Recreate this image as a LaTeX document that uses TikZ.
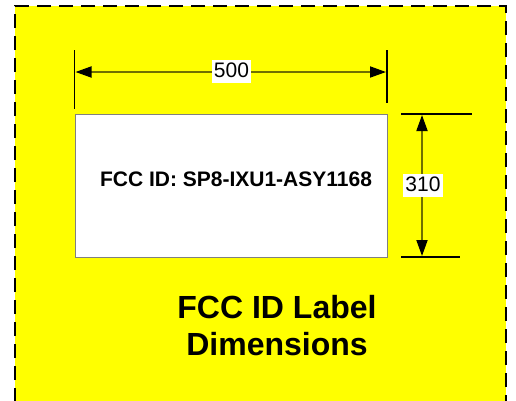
\documentclass[tikz,border=0pt]{standalone}
\usepackage{fontspec}
\setmainfont{Liberation Sans}
\usetikzlibrary{arrows.meta}
\definecolor{bgyellow}{RGB}{255,255,0}
\definecolor{dimline}{RGB}{112,112,0}
\tikzset{
  extline/.style={draw=black, line width=1.6pt},
  dimarrow/.style={draw=dimline, line width=1.8pt, {Triangle[length=16pt,width=11pt,black]}-{Triangle[length=16pt,width=11pt,black]}},
  dimlabel/.style={fill=white, inner sep=2pt, font=\fontsize{21}{24}\selectfont, text height=15pt, text depth=4pt},
  labelbox/.style={draw=gray, fill=white, line width=1pt, minimum width=312pt, minimum height=143pt, inner sep=0pt},
  titletext/.style={font=\fontsize{32}{36}\selectfont\bfseries},
}
\begin{document}
\begin{tikzpicture}[x=1pt,y=-1pt]
\useasboundingbox (0,0) rectangle (516,400);
\fill[bgyellow] (15,6) rectangle (506,402);
\draw[line width=2.4pt, dash pattern=on 14pt off 8pt] (15,402) -- (15,6) -- (506,6) -- (506,402);
% label box
\node[labelbox] (box) at (231,185.5) {};
\node[font=\fontsize{21}{24}\selectfont\bfseries, anchor=center] (fccid) at (236,179) {FCC ID: SP8-IXU1-ASY1168};
% horizontal dimension
\coordinate (hl1) at (74.5,50);
\coordinate (hl2) at (74.5,109);
\coordinate (hr1) at (387,50);
\coordinate (hr2) at (387,103);
\draw[extline] (hl1) -- (hl2);
\draw[extline] (hr1) -- (hr2);
\coordinate (ha) at (75.5,72);
\coordinate (hb) at (386,72);
\draw[dimarrow] (ha) -- (hb);
\node[dimlabel] (w) at (231.5,71.5) {500};
% vertical dimension
\coordinate (vt1) at (401,114);
\coordinate (vt2) at (472,114);
\coordinate (vb1) at (401,257);
\coordinate (vb2) at (460,257);
\draw[extline] (vt1) -- (vt2);
\draw[extline] (vb1) -- (vb2);
\coordinate (va) at (422,115);
\coordinate (vb) at (422,256);
\draw[dimarrow] (va) -- (vb);
\node[dimlabel] (h) at (423,185.5) {310};
% title
\node[titletext, anchor=base] (t1) at (277,318) {FCC ID Label};
\node[titletext, anchor=base] (t2) at (277,355) {Dimensions};
\end{tikzpicture}
\end{document}
